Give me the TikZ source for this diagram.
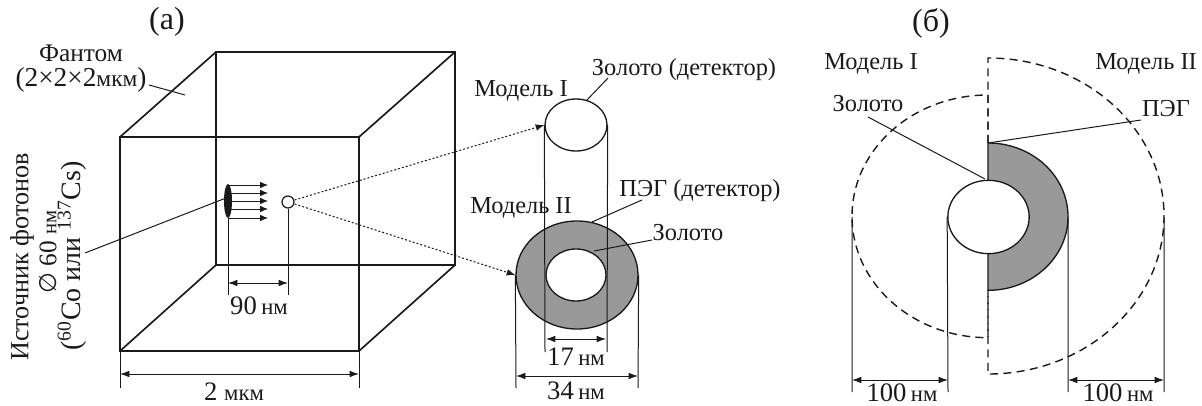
\documentclass[tikz,border=0pt]{standalone}
\usepackage{fontspec}
\setmainfont{Liberation Serif}
\newfontfamily\symfont{DejaVu Sans}
\usetikzlibrary{arrows.meta,shapes.geometric}
\definecolor{ink}{HTML}{1A1A1A}
\definecolor{peg}{HTML}{999999}
\tikzset{
  heavy/.style={draw=ink,line width=1.25pt},
  thin line/.style={draw=ink,line width=0.75pt},
  dimline/.style={draw=ink,line width=0.75pt,{Latex[length=7pt,width=5pt]}-{Latex[length=7pt,width=5pt]}},
  ray/.style={draw=ink,line width=0.65pt,-{Latex[length=6pt,width=5pt]}},
  dots/.style={draw=ink,line width=0.75pt,dash pattern=on 1.5pt off 1.5pt,-{Latex[length=6.5pt,width=5pt]}},
  dashes/.style={draw=ink,line width=1.05pt,dash pattern=on 6pt off 4pt},
  lab/.style={inner sep=0pt,text=ink,font=\fontsize{18.3}{19}\selectfont},
  big/.style={inner sep=0pt,text=ink,font=\fontsize{24}{26}\selectfont},
  oval/.style={ellipse,draw=ink,line width=1pt,inner sep=0pt},
}
\newcommand{\nmu}[1]{\fontsize{20}{21}\selectfont #1\,{\fontsize{17}{18}\selectfont нм}}
\begin{document}
\begin{tikzpicture}[x=0.75pt,y=-0.75pt]
\useasboundingbox (0,0) rectangle (1202,406);
% cube
\coordinate (fa) at (120,137); \coordinate (fb) at (359,137);
\coordinate (fc) at (359,351); \coordinate (fd) at (120,351);
\coordinate (ba) at (216,52);  \coordinate (bb) at (455,52);
\coordinate (bc) at (455,265); \coordinate (bd) at (216,265);
\draw[heavy] (ba) -- (bb) -- (bc) -- (bd) -- cycle;
\draw[heavy] (fa) -- (fb) -- (fc) -- (fd) -- cycle;
\draw[heavy] (fa) -- (ba) (fb) -- (bb) (fc) -- (bc) (fd) -- (bd);
% titles
\node[big] (ta) at (167,22) {(a)};
\node[big] (tb) at (931,23) {(б)};
% phantom
\node[lab] (phantomA) at (81,53) {\fontsize{19}{20}\selectfont Фантом};
\node[lab] (phantomB) at (81,80) {\fontsize{20.5}{21}\selectfont (2×2×2{\fontsize{17.5}{18}\selectfont мкм})};
\coordinate (phantomEnd) at (185,95);
\coordinate (phantomStart) at (149,85);
\draw[thin line] (phantomStart) -- (phantomEnd);
% source
\node[ellipse,fill=ink,minimum width=6pt,minimum height=25.5pt,inner sep=0pt] (src) at (228,201) {};
\foreach \yy/\nm in {185/a,193/b,201/c,209/d,218/e}{
  \coordinate (rs\nm) at (228,\yy); \coordinate (re\nm) at (268,\yy);
  \draw[ray] (rs\nm) -- (re\nm);
}
\node[circle,draw=ink,line width=0.9pt,minimum size=9pt,inner sep=0pt] (gold) at (288,202) {};
\coordinate (srcExt) at (228,295); \coordinate (goldExt) at (288,295);
\draw[thin line] (src.south) -- (srcExt);
\draw[thin line] (gold.south) -- (goldExt);
\coordinate (d90a) at (228,283); \coordinate (d90b) at (288,283);
\draw[dimline] (d90a) -- (d90b);
\node[lab] (l90) at (259,306) {\nmu{90}};
\coordinate (srcLead) at (85,253);
\draw[thin line] (src.center) ++(-2,-3) -- (srcLead);
% rotated labels
\node[lab,rotate=90] (s1) at (22,257) {\fontsize{19.6}{20}\selectfont Источник фотонов};
\node[lab,rotate=90] (s2) at (48,252) {{\symfont\fontsize{18}{18}\selectfont ∅} {\fontsize{19}{20}\selectfont 60} {\fontsize{15.5}{16}\selectfont нм}};
\node[lab,rotate=90] (s3) at (72,256) {\fontsize{21}{22}\selectfont (\textsuperscript{60}Co или \textsuperscript{137}Cs)};
% 2 mkm
\coordinate (e1a) at (120,351); \coordinate (e1b) at (120,388);
\coordinate (e2a) at (359,351); \coordinate (e2b) at (359,388);
\draw[thin line] (e1a) -- (e1b) (e2a) -- (e2b);
\coordinate (d2a) at (120,374); \coordinate (d2b) at (359,374);
\draw[dimline] (d2a) -- (d2b);
\node[lab] (l2) at (234,392) {\fontsize{20}{21}\selectfont 2 {\fontsize{17}{18}\selectfont мкм}};
% model I
\node[oval,minimum width=46.5pt,minimum height=39pt] (m1) at (576,125) {};
\node[lab] (lm1) at (521,91) {Модель I};
\node[lab] (lg1) at (684,70) {Золото (детектор)};
\coordinate (lg1a) at (608,78); \coordinate (lg1b) at (587,100);
\draw[thin line] (lg1a) -- (lg1b);
% model II
\node[ellipse,draw=ink,line width=1pt,fill=peg,inner sep=0pt,minimum width=91.5pt,minimum height=81pt] (m2o) at (577,275) {};
\node[oval,fill=white,minimum width=45pt,minimum height=39pt] (m2i) at (576,275) {};
\node[lab] (lm2) at (521,208) {Модель II};
\node[lab] (lp2) at (700,191) {ПЭГ (детектор)};
\node[lab] (lg2) at (688,233) {Золото};
\coordinate (lp2a) at (642,200); \coordinate (lp2b) at (592,222);
\coordinate (lg2a) at (652,240); \coordinate (lg2b) at (594,251);
\draw[thin line] (lp2a) -- (lp2b) (lg2a) -- (lg2b);
% dotted
\draw[dots] (gold.east) ++(0,-2) -- (m1.west);
\draw[dots] (gold.east) ++(0,2) -- (m2o.west);
% dims model
\coordinate (c1) at (545,352); \coordinate (c2) at (607,352);
\draw[thin line] (m1.west) -- (c1) (m1.east) -- (c2);
\coordinate (o1) at (516,388); \coordinate (o2) at (638,388);
\draw[thin line] (m2o.west) -- (o1) (m2o.east) -- (o2);
\coordinate (d17a) at (546,339); \coordinate (d17b) at (606,339);
\draw[dimline] (d17a) -- (d17b);
\node[lab] (l17) at (576,357) {\nmu{17}};
\coordinate (d34a) at (516,376); \coordinate (d34b) at (638,376);
\draw[dimline] (d34a) -- (d34b);
\node[lab] (l34) at (576,391) {\nmu{34}};
% panel b
\draw[dashes] (988,143) -- (988,58) arc[start angle=90,end angle=-90,x radius=132pt,y radius=118.5pt] -- (988,290);
\draw[dashes] (988,143) -- (988,95) arc[start angle=90,end angle=270,x radius=102pt,y radius=91pt] -- (988,290);
\draw[draw=ink,line width=1pt,fill=peg] (988,143) arc[start angle=90,end angle=-90,x radius=60pt,y radius=55.25pt] -- cycle;
\node[oval,fill=white,minimum width=61pt,minimum height=55pt] (gb) at (988.5,217) {};
\node[lab] (lb1) at (871,64) {Модель I};
\node[lab] (lb2) at (1146,64) {Модель II};
\node[lab] (lb3) at (868,104) {Золото};
\node[lab] (lb4) at (1166,109) {ПЭГ};
\coordinate (lb3a) at (868,117); \coordinate (lb3b) at (985,179);
\coordinate (lb4a) at (1141,120); \coordinate (lb4b) at (988,143);
\draw[thin line] (lb3a) -- (lb3b) (lb4a) -- (lb4b);
\coordinate (x1a) at (852,217); \coordinate (x1b) at (852,392);
\coordinate (x2b) at (948,392);
\coordinate (x3a) at (1068,217); \coordinate (x3b) at (1068,392);
\coordinate (x4a) at (1164,217); \coordinate (x4b) at (1164,392);
\draw[thin line] (x1a) -- (x1b) (gb.west) -- (x2b) (x3a) -- (x3b) (x4a) -- (x4b);
\coordinate (y1) at (852,380); \coordinate (y2) at (948,380);
\coordinate (y3) at (1068,380); \coordinate (y4) at (1164,380);
\draw[dimline] (y1) -- (y2);
\draw[dimline] (y3) -- (y4);
\node[lab] (l100a) at (902,393) {\nmu{100}};
\node[lab] (l100b) at (1118,393) {\nmu{100}};
\end{tikzpicture}
\end{document}
